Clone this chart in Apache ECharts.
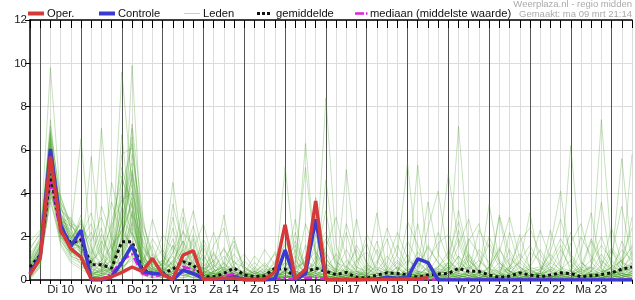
<!DOCTYPE html>
<html><head><meta charset="utf-8">
<script src="https://cdn.jsdelivr.net/npm/echarts@6/dist/echarts.min.js"></script>
<style>html,body{margin:0;padding:0;background:#fff}#c{width:635px;height:300px}</style>
</head><body><div id="c"></div>
<script>
// Day labels (at noon of each day)
const dayLabels = ['Di 10','Wo 11','Do 12','Vr 13','Za 14','Zo 15','Ma 16','Di 17','Wo 18','Do 19','Vr 20','Za 21','Zo 22','Ma 23'];
// 6-hourly time steps, starting ma 09 mrt 18:00
const categories = [];
for (let i = 0; i < 60; i++) { const h = 18 + 6 * i; categories.push((9 + Math.floor(h / 24)) + ' mrt ' + (h % 24) + ':00'); }

const oper = [0.25,1.0,5.7,2.3,1.45,1.05,0.05,0.05,0.15,0.35,0.6,0.4,1.0,0.25,0.03,1.15,1.35,0.02,0.05,0.08,0.08,0.02,0.02,0.02,0.38,2.55,0.05,0.5,3.65,0.02,0.02,0.02,0.02,0.02,0.02,0.03,0.03,0.05,0.05,0.12];
const controle = [0.3,1.1,6.05,2.55,1.55,2.3,0,0,0.15,0.8,1.6,0.4,0.3,0.3,0,0.45,0.3,0.05,0.05,0.05,0.15,0,0,0,0.05,1.38,0,0.3,2.8,0,0,0,0,0.02,0.05,0.12,0.08,0.1,0.98,0.8,0,0,0,0,0,0,0,0,0,0,0,0,0,0,0,0,0,0,0,0];
const gemiddelde = [0.6,1.15,4.9,2.4,1.7,1.85,0.7,0.7,0.55,1.77,1.77,0.5,0.3,0.3,0.5,0.85,0.7,0.15,0.15,0.3,0.55,0.23,0.15,0.2,0.54,0.5,0.15,0.38,0.54,0.4,0.25,0.35,0.12,0.08,0.23,0.33,0.3,0.25,0.12,0.23,0.28,0.3,0.54,0.4,0.4,0.23,0.12,0.18,0.33,0.23,0.15,0.23,0.33,0.3,0.15,0.2,0.25,0.33,0.5,0.6];
const mediaan = [0.4,1.0,4.6,2.2,1.6,1.9,0.1,0.05,0.3,0.9,1.2,0.3,0.15,0.25,0.1,0.6,0.5,0.05,0.05,0.15,0.3,0.05,0.02,0.02,0.05,0.1,0.02,0.1,0.1,0.05,0.02,0.02,0.02,0.02,0.02,0.02,0.02,0.02,0.02,0.02,0.02,0.02,0.02,0.02,0.02,0.02,0.02,0.02,0.02,0.02,0.02,0.02,0.02,0.02,0.02,0.02,0.02,0.02,0.02,0.02];

// Ensemble members (Leden)
const m01 = [0.2,0.9,4.8,2.2,1.4,1.6, 0.3,0.8,0.4,2.1,3.5,0.6,0.2, 0.4,0.9,1.8,0.6,0.1,0.2,0.5,0.3, 0,0.1,0.2,0.8,1.6,0.2,0.1,0.4,0.2, 0,0.1,0.3,0,0,0.2,0.6,0.1,0,0.1,0.3, 0.5,1.1,0.3,0.1,0,0,0.2,0.1,0, 0,0.1,0.2,0.5,0.1,0,0.3,0.6,0.9,0.4];
const m02 = [0.8,1.5,6.4,3.1,2.0,1.2, 0.1,0.2,1.1,4.2,6.3,1.2,0.4, 0.2,0.3,0.8,1.4,0.2,0.1,0.8,0.2, 0.1,0,0,0.3,0.4,0.1,0.2,1.1,0.6, 0.2,0.5,0.1,0,0,0,0.1,0.3,0.2,0,0, 0.2,0.4,1.8,2.6,0.5,0.1,0,0,0.2, 0.3,0.1,0,0,0.2,0.4,0.1,0,0.2,0.3];
const m03 = [0,0.6,3.9,2.8,1.9,2.6, 1.2,2.4,0.6,1.0,2.2,0.8,0.3, 0.1,1.6,0.6,0.2,0,0.1,0.3,0.9, 0.2,0.1,0,0,0.5,2.2,0.3,0.1,0, 0,0.1,0,0.2,0.8,1.9,0.4,0.1,0,0,0.1, 0,0.2,0.1,0,0,0.3,1.4,0.5,0.2, 0,0,0.1,0,0,0.2,0.1,0.3,0.2,0.6];
const m04 = [1.2,1.9,9.8,3.6,2.4,1.3, 0.2,0.5,0.3,0.7,1.8,0.4,1.2, 0.6,1.1,0.4,0.2,0.1,0.4,1.5,0.4, 0.1,0,0.1,0.2,0.1,0.4,0.2,0.5,1.3, 0.3,0.1,0,0,0.1,0.1,0,0.2,0.5,1.6,0.8, 0.3,0.1,0,0.1,0.2,0,0,0.1,0, 0.2,0.8,1.6,0.4,0.1,0,0,0.3,0.1,0];
const m05 = [0.4,1.2,5.6,2.0,1.1,0.9, 5.7,1.3,0.2,0.9,4.1,2.3,0.6, 0.3,0.2,1.1,2.5,0.8,0.1,0.2,0.1, 0,0.3,0.8,0.3,0.2,0.1,0.6,2.1,0.4, 0.1,0,0,0.1,0,0,0.3,0.2,0.1,0.4,0.2, 0.8,3.2,1.0,0.3,0.1,0,0,0,0.1, 0.4,0.2,0,0.1,0.3,0.1,0,0.2,0.5,0.3];
const m06 = [0.1,0.7,4.2,1.7,0.9,0.6, 0.4,7.0,1.5,0.6,1.0,0.3,0.2, 0.8,0.5,0.2,0.1,0,0.2,0.4,0.6, 0.3,0.1,0,0,0.1,0.2,0.1,0.2,0.1, 0,0,0.2,0.6,0.2,0.1,0,0,0.2,0.1,0.4, 0.6,0.2,0.1,0.1,0.3,0.8,0.4,0.1,0, 0.1,0,0.2,0.3,0.1,0.4,1.2,0.5,0.2,0.1];
const m07 = [0.6,1.4,6.9,2.6,1.7,3.0, 0.8,0.4,4.5,2.6,1.4,0.5,0.3, 0.2,0.6,0.3,0.5,1.2,0.3,0.1,0.2, 0.1,0.2,0.1,0.6,2.4,0.3,0.1,0.2,0.5, 0.2,0.1,0,0,0,0.1,0.2,0.1,0,0,0.1, 0,0.1,0.4,0.2,0.1,0.1,0,0.3,0.5, 0.2,0.1,0,0,0.1,0.3,0.2,0.1,0.4,0.7];
const m08 = [0.3,1.1,5.0,2.5,1.3,1.0, 0.2,0.6,0.9,9.6,4.3,0.8,0.4, 0.5,0.3,0.4,0.2,0.1,0.3,0.2,0.1, 0,0,0.1,0.2,0.3,0.8,5.2,1.1,0.2, 0.1,0.2,0.4,0.1,0,0,0.1,0.3,0.2,0.1,0, 0.1,0,0,0.2,0.6,1.5,0.4,0.1,0, 0,0.1,0.2,0.1,0,0,0.1,0.2,0.3,0.2];
const m09 = [1.8,2.3,4.4,3.2,2.8,1.9, 0.6,0.3,0.2,0.5,9.9,1.6,0.7, 0.9,4.5,1.2,0.4,0.2,0.1,0.6,0.2, 0.1,0.4,0.1,0.1,0,0.1,0.3,0.2,0.1, 0,0.1,0.1,0,0.2,0.4,0.2,0.1,0.3,0.2,0.1, 0.1,0.3,0.2,0,0,0.1,0.2,0.4,0.1, 0,0,0.1,0.2,0.5,0.2,0,0.1,0.2,0.4];
const m10 = [0.5,1.3,7.4,2.9,1.5,1.1, 0.3,0.2,0.6,6.7,2.2,0.9,1.6, 0.4,0.2,0.5,0.3,0.6,0.2,0.1,0, 0,0,0.2,0.1,0.4,0.2,0.1,0.3,8.4, 1.6,0.4,0.1,0.1,0,0,0.1,0.2,0.1,0.3,0.2, 0.2,0.1,0,0,0.1,0.2,0.1,0,0.2, 0.3,0.4,0.1,0,0,0.1,0.2,0.1,0,0.2];
const m11 = [0.2,0.8,4.6,2.1,1.2,2.2, 0.1,0.3,0.2,1.3,7.2,3.1,0.5, 0.2,0.1,0.3,1.9,0.4,0.1,0,0.2, 0.4,0.1,0,0.2,0.3,1.4,0.2,0.6,0.3, 0.2,0.6,0.2,0.1,0.1,0.3,1.2,5.4,0.8,0.2,0.1, 0,0.1,0.2,0.3,0.1,0,0,0.1,0.1, 0,0.2,0.1,0.1,0,0,0.3,0.2,0.1,0];
const m12 = [0.9,1.6,5.9,2.7,2.2,1.4, 0.5,1.8,0.9,3.4,5.4,1.4,0.2, 0.1,0.3,2.9,1.0,0.2,0.3,0.4,0.1, 0,0.2,0.1,0,0.2,0.1,0.3,0.1,0.2, 0.1,0.1,0.8,1.7,0.3,0.1,0,0,0.1,0.2,0.1, 0.4,0.2,0.1,0,0,0.1,0.3,0.8,3.1, 0.6,0.2,0.1,0,0,0.1,0.2,0.3,0.5,0.6];
const m13 = [0.4,1.0,3.6,1.9,1.0,0.8, 0.2,0.1,0.3,0.8,1.4,0.3,0.8, 2.1,1.4,0.6,0.3,0.1,0.2,0.3,1.6, 0.6,0.2,0.1,0.1,0,0.1,0.2,0.1,0.4, 0.2,0.1,0,0,0.1,0,0.2,0.1,0.4,0.3,1.1, 4.9,1.7,0.4,0.1,0,0,0.2,0.1,0, 0.1,0,0,0.1,0.2,0.1,0,0.4,0.2,0.1];
const m14 = [0.7,1.2,5.3,2.3,1.8,1.5, 2.2,0.9,0.4,4.8,2.9,0.7,0.4, 0.3,0.7,1.4,0.8,0.3,0.1,0.2,0.4, 0.2,0.1,0.3,0.4,0.1,0.2,0.1,0.9,3.2, 0.4,0.2,0.1,0.1,0,0.2,0.1,0,0.2,0.1,0.2, 0.6,7.1,1.2,0.3,0.1,0.1,0,0.2,0.1, 0.1,0.3,0.2,0,0.1,0.2,0.4,0.2,0.1,0.3];
const m15 = [0.3,0.9,4.0,2.4,1.6,1.3, 0.1,0.2,0.7,1.6,3.2,0.4,0.1, 0.2,0.1,0.1,0.3,0.5,0.7,0.2,0.3, 0.1,0.3,0.2,0.1,5.2,1.0,0.2,0.1,0.1, 0,0,0.1,0.2,0.3,0.1,0,0.1,0.2,0.6,0.2, 0.1,0,0.1,0.2,0.4,0.2,0.1,0,0.1, 0.2,0.1,0.3,6.2,0.9,0.2,0.1,0,0.1,0.2];
const m16 = [0.1,0.6,5.8,2.8,2.0,1.7, 0.3,0.4,0.2,2.9,4.7,0.6,0.3, 0.1,0.4,0.9,0.5,0.3,0.6,3.0,0.6, 0.1,0,0,0.1,0.2,0.1,0.4,0.2,0.1, 0.1,5.1,0.9,0.2,0.1,0,0.1,0.2,0.1,0,0, 0.2,0.1,0,0.1,0.3,2.9,0.6,0.2,0.1, 0,0.1,0,0.2,0.1,0.3,0.1,0.2,1.8,0.7];
const m17 = [0.5,1.4,6.2,2.2,1.4,0.7, 0.2,0.3,1.8,5.8,6.1,2.4,0.5, 0.6,2.4,0.8,0.4,0.1,0.2,0.1,0.2, 0.2,0.1,0.3,0.2,0.4,0.3,0.1,0.1,0.2, 0.1,0,0.1,0.2,0.1,0.2,0.3,0.1,0.1,0.2,0.3, 0.2,0.4,0.2,0.3,0.1,0,0,0.1,0.2, 0.3,0.2,0.1,0.4,1.3,3.1,0.5,0.2,0.1,0.3];
const m18 = [0.2,1.1,4.9,2.6,1.1,0.9, 0.4,0.2,0.1,0.3,2.7,1.1,0.2, 0.3,0.2,0.4,0.2,1.7,0.5,0.2,0.1, 0.1,0,0.2,0.4,0.2,0.1,1.6,0.7,0.3, 0.2,0.3,2.8,0.6,0.1,0.1,0.4,1.2,0.3,0.1,0, 0.1,0.2,0.4,0.1,0,0.1,0.2,0.6,0.3, 0.2,0.1,0,0,0.1,0.4,7.4,1.4,0.3,0.2];
const m19 = [1.0,1.8,6.6,3.0,2.5,2.1, 0.6,0.5,0.3,2.0,3.8,0.5,0.3, 0.4,0.8,0.3,0.1,0.2,0.4,0.6,2.0, 0.3,0.1,0,0.1,0.1,0.6,0.2,0.3,0.5, 0.1,0.2,0.1,0,0,0.1,0.2,0.3,5.3,0.9,0.2, 0.3,0.1,0.2,0.1,0,0.2,0.1,0.1,0, 0.1,0,0.2,0.1,0.2,0.1,0.3,0.6,0.4,5.8];
const m20 = [0.3,0.9,4.4,1.8,1.2,1.0, 0.1,0.2,0.5,0.4,1.2,0.6,2.8, 1.2,0.4,0.2,0.3,0.2,0.1,0.3,0.4, 0.2,0.3,0.1,0,0.1,0.3,0.2,0.4,0.2, 0.1,0.1,0.2,0.4,1.8,0.3,0.1,0.2,0.1,0.1,0.2, 0.2,0.3,1.1,0.4,0.2,3.0,1.2,0.3,0.1, 0.2,0.1,0.3,0.2,0.1,0,0.1,0.2,0.1,0.4];
const m21 = [0.6,1.3,5.5,3.4,2.1,1.6, 0.3,0.8,0.4,3.9,2.0,0.3,0.2, 0.3,0.2,0.1,0.2,0.4,0.9,0.5,0.3, 0.1,0.1,0.2,0.3,0.6,2.8,0.4,0.3,0.1, 0.2,0.1,0,0,0.1,0.2,0.1,0.4,0.2,2.4,4.1, 1.0,0.3,0.2,0.1,0.1,0,0,0.1,0.2, 0.3,2.3,0.6,0.2,0.1,0,0.1,0.3,0.2,0.1];
const m22 = [0.2,0.8,5.1,2.0,1.3,1.2, 0.2,0.1,0.6,1.9,5.0,0.8,0.3, 0.2,0.3,0.5,0.8,0.2,0.3,0.2,0.1, 0.1,0.2,0.1,0.2,0.3,0.4,6.3,0.9,0.2, 0.3,0.1,0.1,0.2,0,0,0.1,0.2,0.3,0.1,0.1, 0.1,0.2,0.1,0.3,3.5,0.8,0.2,0.1,0, 0.1,0.2,0,0.1,0.3,0.6,0.2,0.1,0.2,0.3];
const m23 = [0.8,1.6,6.1,2.5,1.6,2.8, 1.0,0.6,0.3,0.5,1.1,0.4,0.2, 0.3,0.5,0.2,0.4,0.1,1.3,0.4,0.2, 0.1,0,0.1,0.1,0.2,0.1,0.3,0.2,0.6, 0.2,0.1,0.3,0.2,0.1,0,0.2,0.1,0,0.1,0.2, 0.3,0.2,0.1,0,0.1,0.2,0.4,2.1,0.5, 0.2,0.1,0.4,0.2,0.1,0.3,0.2,0.8,5.6,1.1];
const m24 = [0.4,1.0,4.7,2.7,1.9,1.4, 0.5,0.3,0.7,2.4,6.6,1.8,0.6, 0.2,0.4,0.3,0.1,0.3,0.2,0.1,0.2, 0.3,0.2,0.1,0.3,0.1,0.2,0.1,3.8,1.0, 0.3,0.2,0.1,0.1,0.2,0.1,0,0.1,0.2,0.3,0.2, 0.1,0.2,0.3,0.1,0.2,0.4,0.1,0.1,0.3, 0.2,0.5,0.2,0.1,0,0.1,0.2,0.4,0.3,0.2];
const m25 = [0.1,0.7,3.8,1.6,0.8,0.5, 0.2,0.1,0.2,0.6,0.9,0.2,0.1, 0.1,0.2,0.7,0.3,0.1,0.2,0.3,0.2, 0.1,0.1,0.2,0.1,0.1,0.2,0.3,0.1,0.2, 0.1,0.2,0.2,0.1,0.1,0.2,0.3,0.2,0.1,0.2,0.1, 0.3,0.2,0.1,0.1,0.2,0.1,0.1,0.2,0.1, 0.1,0.2,0.1,0.2,0.1,0.2,0.1,0.2,0.3,0.2];
const m26 = [1.5,2.1,6.8,3.8,2.6,1.8, 0.4,0.3,2.2,5.2,3.3,0.6,0.3, 0.2,0.6,2.3,0.6,0.2,0.4,0.2,0.3, 0.2,0.4,0.2,0.1,0.3,0.2,0.5,0.3,0.1, 0.2,0.3,0.1,0.5,3.1,0.4,0.1,0.1,0.2,0.1,0.1, 0.2,0.4,0.6,0.3,0.1,0.1,0.2,0.4,0.2, 0.1,0.3,0.2,0.4,0.2,0.1,0.6,2.4,0.8,0.3];
const m27 = [0.3,1.2,5.4,2.3,1.5,1.9, 0.3,0.4,0.5,1.2,2.4,0.7,0.4, 0.5,0.3,0.2,0.3,0.6,1.2,0.4,0.2, 0.1,0.2,0.1,0.2,0.4,0.1,0.2,0.6,0.3, 0.4,2.2,0.5,0.2,0.1,0.2,0.1,0.3,0.2,0.1,0.3, 0.8,0.5,0.2,0.1,0,0.1,2.2,0.6,0.2, 0.3,0.1,0.2,0.1,0.2,0.3,0.1,0.3,0.4,0.5];
const m28 = [0.7,1.5,5.0,2.9,2.3,6.5, 1.4,0.6,0.4,0.9,1.7,0.5,0.3, 0.6,0.3,1.0,0.4,0.2,0.1,0.2,0.1, 0,0.1,0.4,1.3,0.6,0.2,0.1,0.2,0.3, 0.2,0.1,0.2,0.3,0.2,0.4,0.2,0.1,0.3,0.2,0.5, 0.4,2.3,0.7,0.2,0.1,0.2,0.1,0.3,0.2, 0.2,0.1,0.3,0.2,0.4,0.2,0.1,0.2,0.6,2.9];
const m29 = [0.5,1.1,4.3,2.2,1.7,1.5, 0.3,0.2,0.4,3.1,7.0,1.0,0.4, 0.3,3.5,1.6,0.5,0.3,0.2,0.2,0.3, 0.2,0.1,0.3,0.2,0.1,0.3,0.2,0.4,4.6, 0.9,0.3,0.2,0.1,0.1,0.2,0.1,0.3,0.2,0.2,0.1, 0.2,0.1,0.3,0.2,0.1,0.2,0.3,0.1,0.2, 0.1,0.2,0.3,0.1,0.2,0.6,3.6,0.5,0.2,0.1];
const m30 = [0.9,1.7,6.0,2.4,1.3,1.1, 0.2,0.5,1.4,2.3,1.5,0.4,0.2, 0.2,0.1,0.4,2.1,0.5,0.3,0.1,0.2, 0.3,0.2,0.1,0.2,0.1,0.2,1.1,0.3,0.2, 0.1,0.2,0.3,0.1,0.5,0.2,0.1,0.6,2.6,0.4,0.2, 0.3,0.6,0.2,0.1,0.2,0.3,0.1,0.2,0.1, 0.3,1.6,4.1,0.8,0.2,0.1,0.2,0.1,0.3,0.4];
const m31 = [0.6,1.4,5.7,3.3,2.6,2.4, 1.8,2.9,1.4,2.6,4.4,1.1,0.6, 0.4,1.3,2.2,1.6,0.4,0.3,0.9,1.8, 0.6,0.3,0.2,0.9,1.3,0.4,0.3,1.7,2.2, 0.8,0.6,1.4,0.5,0.3,0.8,2.2,1.0,0.4,0.2,0.6, 1.3,0.7,0.4,2.3,1.5,0.6,0.3,0.2,0.4, 0.5,0.9,1.9,1.1,0.3,0.2,0.7,1.5,0.8,0.6];
const m32 = [0.4,1.2,6.5,3.0,1.8,1.4, 0.8,1.5,3.6,2.0,1.2,0.6,1.9, 1.1,0.7,0.5,1.2,0.9,0.3,0.2,0.6, 0.3,1.1,0.6,0.2,0.8,0.5,0.9,0.6,0.3, 0.5,2.6,1.1,0.4,0.2,0.3,0.6,0.3,1.3,0.7,0.3, 0.4,1.6,2.8,0.9,0.4,1.3,2.9,1.0,0.4, 0.2,0.5,0.3,1.7,2.6,0.8,0.4,0.3,1.0,2.4];
const m33 = [1.1,1.8,5.2,2.6,2.9,2.0, 3.1,1.2,0.8,1.6,5.8,2.8,1.1, 0.7,2.9,1.0,0.6,1.9,0.8,0.4,0.3, 0.2,0.5,1.4,0.7,0.3,1.1,0.6,0.4,0.8, 0.3,0.2,0.5,2.1,1.2,0.4,0.3,2.7,1.6,0.5,0.2, 0.6,0.4,1.9,1.2,0.3,0.2,0.6,1.8,2.4, 1.2,0.4,0.2,0.3,0.6,1.9,0.9,0.4,0.3,0.8];
const m34 = [0.3,1.0,4.1,2.9,2.2,1.7, 0.6,3.4,2.0,0.9,3.1,1.9,0.8, 0.5,0.4,1.5,3.2,1.1,0.4,0.6,0.3, 0.9,0.4,0.2,0.3,1.8,0.7,0.4,0.2,0.5, 1.2,0.6,0.3,0.2,0.7,2.4,1.1,0.5,0.3,0.9,1.7, 2.1,0.9,0.4,0.3,0.6,1.4,0.7,0.3,0.2, 0.4,1.3,2.8,1.2,0.5,0.3,0.2,0.6,1.4,0.9];
const m35 = [0.9,2.0,7.1,3.5,1.6,1.1, 0.4,0.9,2.7,4.6,3.7,0.9,0.5, 0.3,0.9,0.6,0.4,0.8,2.2,0.7,0.4, 0.2,0.6,0.3,0.5,0.9,1.6,0.5,0.8,1.9, 0.7,0.3,1.6,0.8,0.3,0.2,0.4,0.9,0.6,3.6,1.2, 0.5,0.3,0.2,0.6,1.7,0.8,0.4,0.3,0.6, 1.4,0.6,0.3,0.2,0.5,0.9,2.0,0.7,0.4,1.3];
const m36 = [0.2,0.9,5.6,2.4,1.9,2.7, 1.5,0.7,0.5,2.8,2.1,1.3,0.4, 0.8,1.9,0.7,0.5,0.3,0.6,1.1,0.5, 0.4,0.2,0.6,1.2,0.5,0.3,2.6,1.3,0.4, 0.3,0.9,0.4,0.2,1.4,0.6,0.3,0.2,0.8,0.4,0.6, 1.1,2.7,0.9,0.4,0.2,0.5,0.3,0.9,1.6, 0.7,0.3,0.9,2.2,0.8,0.4,0.3,1.1,3.4,0.9];
const m37 = [0.5,1.3,4.5,3.9,2.4,1.2, 0.9,0.6,1.2,3.3,5.1,1.6,0.9, 1.4,0.6,0.4,0.9,1.5,0.5,0.3,0.7, 1.2,0.5,0.3,0.2,0.4,0.9,0.3,2.9,1.0, 0.4,0.3,0.9,1.3,0.5,0.3,0.8,0.4,0.2,0.6,2.2, 0.9,0.5,0.3,1.4,0.8,0.3,0.2,0.4,0.7, 2.3,1.0,0.4,0.3,0.6,0.4,0.9,0.5,0.3,0.6];
const m38 = [1.4,2.2,6.3,2.8,1.4,1.0, 0.5,0.4,0.9,1.8,4.9,2.6,1.3, 0.6,1.2,3.3,1.1,0.4,0.2,0.5,1.2, 0.5,0.3,0.4,0.6,0.3,0.2,0.5,0.7,1.5, 2.9,1.0,0.4,0.2,0.3,0.5,1.6,0.6,0.3,0.2,0.4, 0.3,0.5,1.2,0.6,2.0,0.9,0.4,0.3,0.5, 0.6,0.2,0.5,0.9,0.4,1.8,0.7,0.3,0.5,1.1];
const m39 = [0.8,1.1,5.9,3.1,2.0,2.3, 0.7,2.1,1.0,0.6,3.0,0.9,0.5, 0.9,0.5,0.8,0.6,0.3,1.6,2.4,0.6, 0.3,0.8,0.4,0.3,0.6,0.4,0.3,0.5,0.9, 0.5,0.4,0.3,0.7,0.4,1.1,0.5,0.3,0.6,1.5,0.8, 0.4,1.1,0.6,0.3,0.5,0.4,1.0,0.6,0.3, 0.5,1.2,0.6,0.4,2.0,1.1,0.5,0.3,0.8,1.6];
const m40 = [0.6,1.6,6.7,2.7,2.5,1.9, 0.9,1.3,2.5,3.7,4.0,1.5,0.7, 0.5,0.8,1.8,0.9,0.5,0.9,1.4,0.8, 0.6,0.3,0.5,0.4,1.1,0.6,0.8,1.3,0.6, 0.4,1.4,0.6,0.3,0.2,0.4,0.3,1.8,0.9,0.4,0.5, 0.7,0.4,0.9,0.5,0.3,0.6,0.4,0.2,1.3, 0.9,0.4,1.4,0.6,0.3,0.7,1.6,0.9,0.5,0.8];
const m41 = [0.3,0.8,4.9,2.0,1.5,1.8, 2.6,1.0,0.6,1.4,2.6,0.8,0.5, 0.4,0.3,0.6,1.4,2.6,0.7,0.3,0.5, 0.3,0.2,0.3,0.5,0.8,0.4,0.2,0.6,0.5, 0.3,0.2,0.6,0.4,0.9,0.3,0.2,0.5,0.4,0.3,0.6, 0.8,1.9,0.7,0.4,0.3,0.2,0.5,0.8,0.4, 0.3,0.6,0.4,0.3,0.8,0.5,0.3,1.4,0.6,0.4];
const m42 = [0.7,1.5,5.4,3.6,2.7,1.5, 0.6,0.9,1.6,2.2,3.6,1.0,0.6, 0.7,1.6,0.9,0.5,0.4,0.3,0.8,0.4, 0.2,0.4,0.7,0.3,0.5,1.8,0.6,0.4,0.7, 0.5,0.3,0.4,0.3,0.6,0.4,0.9,0.4,0.3,0.5,0.4, 0.3,0.8,0.5,0.9,0.5,0.3,0.6,1.2,0.6, 0.4,0.8,0.5,0.3,0.4,0.6,0.4,0.5,0.9,1.5];
const leden = [m01,m02,m03,m04,m05,m06,m07,m08,m09,m10,m11,m12,m13,m14,m15,m16,m17,m18,m19,m20,m21,m22,m23,m24,m25,m26,m27,m28,m29,m30,m31,m32,m33,m34,m35,m36,m37,m38,m39,m40,m41,m42];

const FONT = '"Liberation Sans", Arial, sans-serif';
const labelFor = {};
dayLabels.forEach((d, k) => { labelFor[categories[3 + 4 * k]] = d; });

const series = [];
leden.forEach(m => series.push({
  type: 'line', data: m, symbol: 'none', silent: true, z: 2,
  lineStyle: { width: 1, color: 'rgba(70,160,35,0.3)' }
}));
series.push({ type: 'line', data: mediaan, symbol: 'none', z: 3,
  lineStyle: { width: 2.5, color: '#e020e0', type: [8, 3, 2, 3] } });
series.push({ type: 'line', data: gemiddelde, symbol: 'none', z: 4,
  lineStyle: { width: 3, color: '#111', type: [3, 3] } });
series.push({ type: 'line', data: controle, symbol: 'none', z: 5,
  lineStyle: { width: 3.5, color: '#3a3ad0' } });
series.push({ type: 'line', data: oper, symbol: 'none', z: 6,
  lineStyle: { width: 3.5, color: '#d43a3a' } });

const chart = echarts.init(document.getElementById('c'), null, { renderer: 'canvas' });
chart.setOption({
  animation: false,
  backgroundColor: '#fff',
  textStyle: { fontFamily: FONT },
  grid: { left: 30, right: 0, top: 20, bottom: 20, containLabel: false },
  xAxis: [
    { type: 'category', data: categories, boundaryGap: false, position: 'bottom',
      axisLine: { show: true, lineStyle: { color: '#000', width: 1.5 } },
      axisTick: { show: true, interval: 0, length: 4, lineStyle: { color: '#000' } },
      axisLabel: { interval: (i) => i % 4 === 3, formatter: (v) => labelFor[v] || '',
        fontSize: 11.5, color: '#222', margin: 4, fontFamily: FONT },
      splitLine: { show: true, interval: 0, lineStyle: { color: '#dcdcdc', width: 1 } } },
    { type: 'category', data: categories, boundaryGap: false, position: 'top',
      axisLine: { show: true, lineStyle: { color: '#000', width: 1.5 } },
      axisTick: { show: true, inside: true, interval: 0, length: 8, lineStyle: { color: '#000' } },
      axisLabel: { show: false },
      splitLine: { show: true, interval: (i) => i % 4 === 1, lineStyle: { color: '#555', width: 1 } } }
  ],
  yAxis: { type: 'value', min: 0, max: 12, interval: 2,
    axisLine: { show: true, lineStyle: { color: '#000', width: 1.5 } },
    axisTick: { show: true, length: 5, lineStyle: { color: '#000' } },
    axisLabel: { fontSize: 11.5, color: '#222', margin: 3, fontFamily: FONT },
    splitLine: { show: true, lineStyle: { color: '#dcdcdc', width: 1 } } },
  graphic: [
    { type: 'line', shape: { x1: 28, y1: 13.5, x2: 44, y2: 13.5 }, style: { stroke: '#d43a3a', lineWidth: 4 } },
    { type: 'text', x: 47, y: 13.5, style: { text: 'Oper.', fontSize: 11.2, fontFamily: FONT, fill: '#111', verticalAlign: 'middle' } },
    { type: 'line', shape: { x1: 99, y1: 13.5, x2: 115, y2: 13.5 }, style: { stroke: '#3a3ad0', lineWidth: 4 } },
    { type: 'text', x: 118, y: 13.5, style: { text: 'Controle', fontSize: 11.2, fontFamily: FONT, fill: '#111', verticalAlign: 'middle' } },
    { type: 'line', shape: { x1: 184, y1: 13.5, x2: 200, y2: 13.5 }, style: { stroke: '#b8dcae', lineWidth: 1 } },
    { type: 'text', x: 203, y: 13.5, style: { text: 'Leden', fontSize: 11.2, fontFamily: FONT, fill: '#111', verticalAlign: 'middle' } },
    { type: 'line', shape: { x1: 257, y1: 13.5, x2: 272, y2: 13.5 }, style: { stroke: '#111', lineWidth: 3, lineDash: [3, 2] } },
    { type: 'text', x: 276, y: 13.5, style: { text: 'gemiddelde', fontSize: 11.2, fontFamily: FONT, fill: '#111', verticalAlign: 'middle' } },
    { type: 'line', shape: { x1: 355, y1: 13.5, x2: 368, y2: 13.5 }, style: { stroke: '#e020e0', lineWidth: 2.5, lineDash: [9, 2, 1.5, 2] } },
    { type: 'text', x: 370, y: 13.5, style: { text: 'mediaan (middelste waarde)', fontSize: 11.2, fontFamily: FONT, fill: '#111', verticalAlign: 'middle' } },
    { type: 'text', x: 632, y: 4, style: { text: 'Weerplaza.nl - regio midden', fontSize: 9.5, fontFamily: FONT, fill: '#aaa', align: 'right', verticalAlign: 'middle' } },
    { type: 'text', x: 632, y: 14.5, style: { text: 'Gemaakt: ma 09 mrt 21:14', fontSize: 9.5, fontFamily: FONT, fill: '#aaa', align: 'right', verticalAlign: 'middle' } }
  ],
  series: series
});
</script></body></html>
